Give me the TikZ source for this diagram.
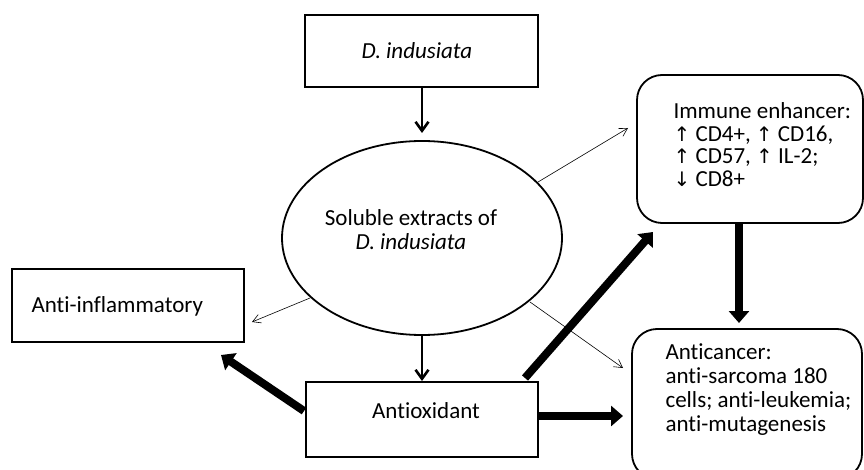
\documentclass[tikz,border=0pt]{standalone}
\usepackage{fontspec}
\setmainfont{Carlito}[Ligatures=NoCommon]
\newfontfamily\arrfont{DejaVu Sans}
\usetikzlibrary{shapes.geometric,arrows.meta}
\newcommand{\upar}{{\arrfont\fontsize{20}{22.5}\selectfont↑}}
\newcommand{\dnar}{{\arrfont\fontsize{20}{22.5}\selectfont↓}}
\begin{document}
\begin{tikzpicture}[x=1pt,y=-1pt,
  every node/.style={font=\fontsize{23}{22.5}\selectfont},
  sqbox/.style={draw,line width=1.8pt,rectangle,inner sep=0pt},
  rbox/.style={draw,line width=1.8pt,rectangle,rounded corners=25pt,inner sep=0pt},
  thin arrow/.style={line width=0.6pt,-{Straight Barb[length=8pt,width=9pt]}},
  mid arrow/.style={line width=2.6pt,-{Straight Barb[length=9pt,width=13pt,line width=2.6pt]}},
  fat arrow/.style={line width=8pt,-{Triangle[length=12pt,width=20pt]}}]
\useasboundingbox (0,0) rectangle (864,470);
\clip (0,0) rectangle (864,470);
% boxes
\node[sqbox,minimum width=233pt,minimum height=72pt] (top) at (421.5,51) {};
\node at (417,51) {\itshape D. indusiata};
\node[draw,line width=1.8pt,ellipse,minimum width=280pt,minimum height=194pt,inner sep=0pt] (ell) at (422,238) {};
\node[align=center,font=\fontsize{23}{24}\selectfont] at (411,230) {Soluble extracts of\\\itshape D. indusiata};
\node[sqbox,minimum width=232pt,minimum height=73pt] (inf) at (128,305.5) {};
\node[anchor=west] at (28,306) {Anti-inflammatory};
\node[sqbox,minimum width=232pt,minimum height=75pt] (aox) at (422,419.5) {};
\node at (426,411) {Antioxidant};
\node[rbox,minimum width=226pt,minimum height=148pt] (imm) at (750,149) {};
\node[anchor=north west,align=left] at (670,99) {Immune enhancer:\\\upar\ CD4+, \upar\ CD16,\\\upar\ CD57, \upar\ IL-2;\\\dnar\ CD8+};
\node[rbox,minimum width=230pt,minimum height=150pt] (anc) at (747,404) {};
\node[anchor=north west,align=left,font=\fontsize{23}{24}\selectfont] at (662,340) {Anticancer:\\anti-sarcoma 180\\cells; anti-leukemia;\\anti-mutagenesis};
% connectors
\coordinate (t1) at (422,87);
\coordinate (t2) at (422,133);
\draw[mid arrow] (t1) -- (t2);
\coordinate (e1) at (422,335);
\coordinate (e2) at (422,381);
\draw[mid arrow] (e1) -- (e2);
\coordinate (a1) at (538,182);
\coordinate (a2) at (628,128);
\draw[thin arrow] (a1) -- (a2);
\coordinate (b1) at (310,298);
\coordinate (b2) at (252,322);
\draw[thin arrow] (b1) -- (b2);
\coordinate (c1) at (530,302);
\coordinate (c2) at (623,368);
\draw[thin arrow] (c1) -- (c2);
\coordinate (d1) at (304,411);
\coordinate (d2) at (221,355);
\draw[fat arrow] (d1) -- (d2);
\coordinate (f1) at (525,378);
\coordinate (f2) at (653,232);
\draw[fat arrow] (f1) -- (f2);
\coordinate (g1) at (539,416);
\coordinate (g2) at (623,416);
\draw[fat arrow] (g1) -- (g2);
\coordinate (h1) at (739,223);
\coordinate (h2) at (739,323);
\draw[fat arrow] (h1) -- (h2);
\end{tikzpicture}
\end{document}
